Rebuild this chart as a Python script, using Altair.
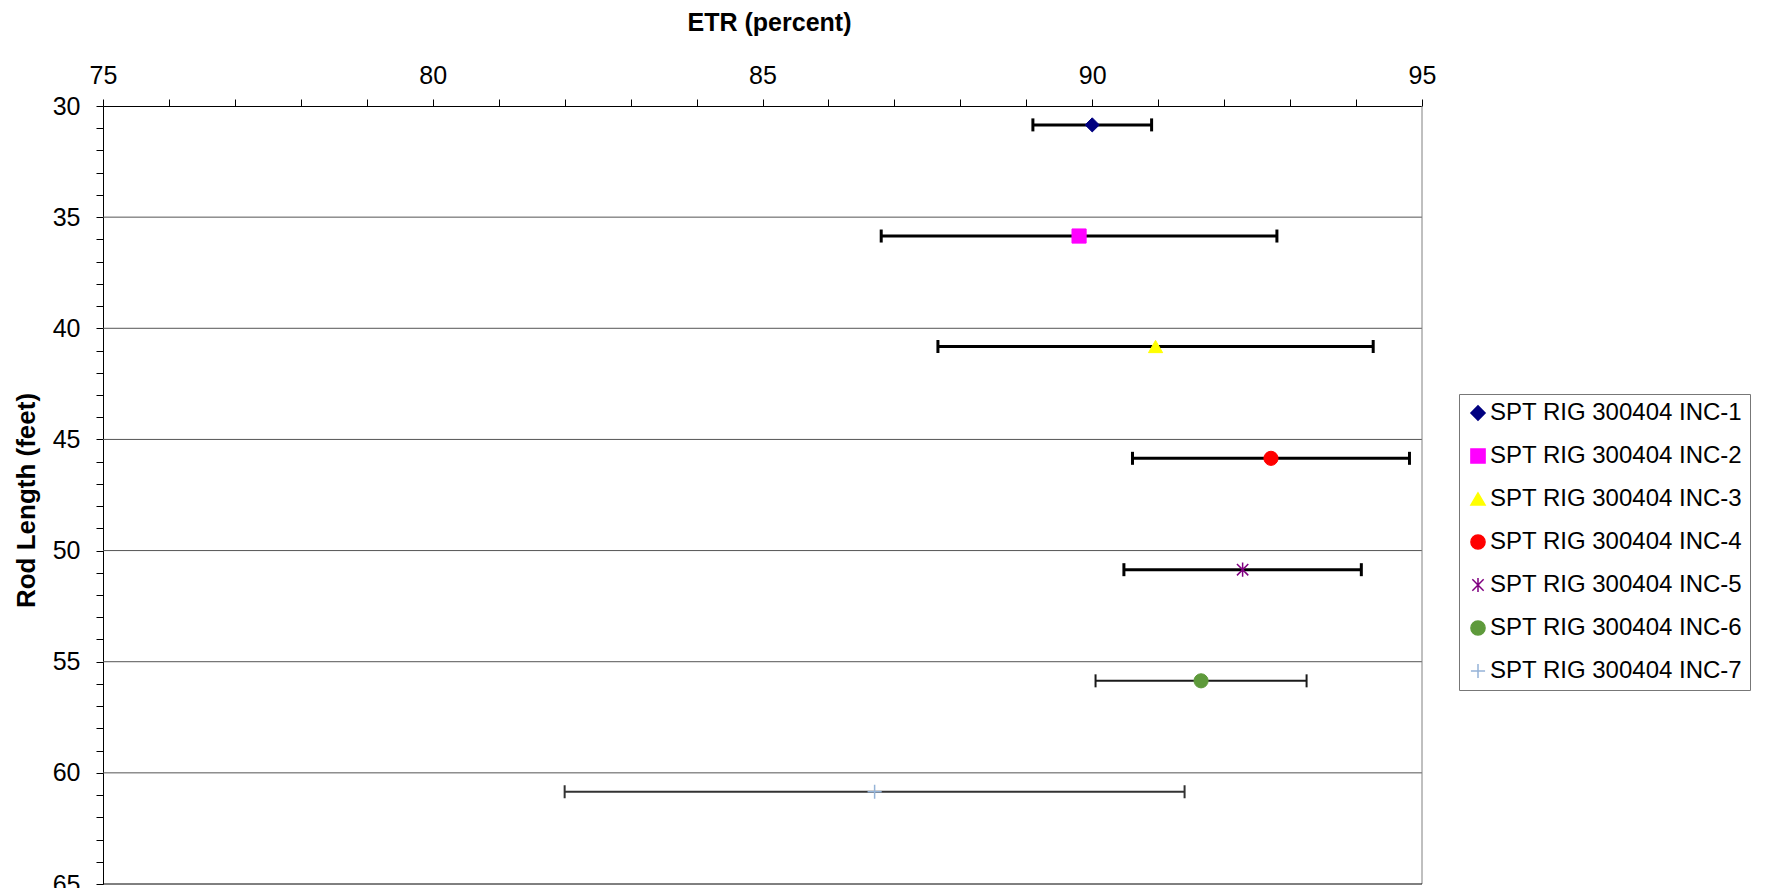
import altair as alt
import pandas as pd

# ---- data ----
series = [
    "SPT RIG 300404 INC-1",
    "SPT RIG 300404 INC-2",
    "SPT RIG 300404 INC-3",
    "SPT RIG 300404 INC-4",
    "SPT RIG 300404 INC-5",
    "SPT RIG 300404 INC-6",
    "SPT RIG 300404 INC-7",
]
rod_length = [30.85, 35.85, 40.82, 45.85, 50.86, 55.86, 60.85]
etr = [90.0, 89.8, 90.96, 92.71, 92.28, 91.65, 86.7]
etr_err = [0.9, 3.0, 3.3, 2.1, 1.8, 1.6, 4.7]

grid_values = [35, 40, 45, 50, 55, 60]
x_ticks = list(range(75, 96))
y_ticks = list(range(30, 66))

# ---- styles ----
marker_colors = ["#000080", "#FF00FF", "#FFFF00", "#FF0000", "#800080", "#5E9A3B", "#95B3D7"]
marker_shapes = [
    "diamond",
    "square",
    "triangle-up",
    "circle",
    "M0,-1L0,1M-0.8,-0.8L0.8,0.8M-0.8,0.8L0.8,-0.8",
    "circle",
    "M-1,0L1,0M0,-1L0,1",
]
marker_stroke_w = [1, 1, 1, 1, 1.5, 1, 1.5]
bar_colors = ["#000000"] * 5 + ["#1a1a1a", "#333333"]
bar_widths = [3, 3, 3, 3, 3, 2, 2]

FONT = "Liberation Sans"

df = pd.DataFrame({
    "series": series,
    "rod": rod_length,
    "etr": etr,
    "err": etr_err,
    "bar_color": bar_colors,
    "bar_w": bar_widths,
    "mk_w": marker_stroke_w,
})
df["lo"] = df["etr"] - df["err"]
df["hi"] = df["etr"] + df["err"]

xscale = alt.Scale(domain=[75, 95], nice=False, zero=False)
yscale = alt.Scale(domain=[30, 65], nice=False, zero=False, reverse=True)

x_axis = alt.Axis(
    orient="top", values=x_ticks, grid=False,
    labelExpr="datum.value % 5 == 0 ? format(datum.value, 'd') : ''",
    tickSize=7, tickColor="#000", domainColor="#000", labelPadding=16,
    labelBaseline="alphabetic", labelFontSize=25, labelFont=FONT, labelColor="#000",
    labelFlush=False, labelOverlap=False, labelBound=False,
    title="ETR (percent)", titleFont=FONT, titleFontSize=25, titleFontWeight="bold",
    titleColor="#000", titleBaseline="alphabetic", titleY=-76, titleX=666, titleAlign="center",
)
y_axis = alt.Axis(
    orient="left", values=y_ticks, grid=False,
    labelExpr="datum.value % 5 == 0 ? format(datum.value, 'd') : ''",
    tickSize=7, tickColor="#000", domainColor="#000", labelPadding=16,
    labelFontSize=25, labelFont=FONT, labelColor="#000",
    labelFlush=False, labelOverlap=False, labelBound=False,
    title="Rod Length (feet)", titleFont=FONT, titleFontSize=26, titleFontWeight="bold",
    titleColor="#000", titleBaseline="alphabetic", titleX=-69, titleY=394, titleAlign="center",
    titleAngle=270,
)

X = lambda f: alt.X(f, scale=xscale, axis=x_axis)
Y = lambda f: alt.Y(f, scale=yscale, axis=y_axis)

grid = alt.Chart(pd.DataFrame({"g": grid_values})).mark_rule(color="#555555", strokeWidth=1).encode(
    y=Y("g:Q"),
    x=alt.datum(75, scale=xscale, axis=x_axis),
    x2=alt.datum(95),
)

border = alt.Chart(pd.DataFrame({"a": [0]})).mark_rule(color="#808080", strokeWidth=1).encode(
    x=alt.datum(95, scale=xscale, axis=x_axis),
    y=alt.datum(30, scale=yscale, axis=y_axis), y2=alt.datum(65)
)
bottom = alt.Chart(pd.DataFrame({"a": [0]})).mark_rule(color="#000000", strokeWidth=1).encode(
    y=alt.datum(65, scale=yscale, axis=y_axis),
    x=alt.datum(75, scale=xscale, axis=x_axis), x2=alt.datum(95)
)

bars = alt.Chart(df).mark_rule().encode(
    x=X("lo:Q"),
    x2="hi:Q",
    y=Y("rod:Q"),
    color=alt.Color("bar_color:N", scale=None),
    strokeWidth=alt.StrokeWidth("bar_w:Q", scale=None),
)

caps = alt.Chart(df).transform_fold(["lo", "hi"], as_=["end", "xv"]).mark_point(
    shape="M0,-1L0,1", size=169, filled=False, opacity=1
).encode(
    x=X("xv:Q"),
    y=Y("rod:Q"),
    color=alt.Color("bar_color:N", scale=None),
    strokeWidth=alt.StrokeWidth("bar_w:Q", scale=None),
)

leg_scale_fill = alt.Scale(domain=series, range=marker_colors)
leg_scale_shape = alt.Scale(domain=series, range=marker_shapes)
legend = alt.Legend(title=None)

points = alt.Chart(df).mark_point(filled=True, size=200, opacity=1).encode(
    x=X("etr:Q"),
    y=Y("rod:Q"),
    fill=alt.Fill("series:N", scale=leg_scale_fill, legend=legend),
    stroke=alt.Stroke("series:N", scale=leg_scale_fill, legend=legend),
    shape=alt.Shape("series:N", scale=leg_scale_shape, legend=legend),
    strokeWidth=alt.StrokeWidth("mk_w:Q", scale=None),
)

chart = alt.layer(grid, border, bottom, bars, caps, points).properties(
    width=1319,
    height=778,
    autosize=alt.AutoSizeParams(type="none"),
    padding={"left": 95, "top": 98, "right": 330, "bottom": 4},
).configure_view(stroke=None).configure_axis(
    labelOverlap=False, labelFlush=False
).configure_legend(
    orient="none", legendX=1356, legendY=288,
    labelFont=FONT, labelFontSize=24, labelColor="#000", labelLimit=400,
    symbolSize=200, symbolStrokeWidth=1.5, padding=7, strokeColor="#777777",
    fillColor="#ffffff", rowPadding=19, labelOffset=0,
)

chart.save("out.html", embed_options={"renderer": "svg", "actions": False})
